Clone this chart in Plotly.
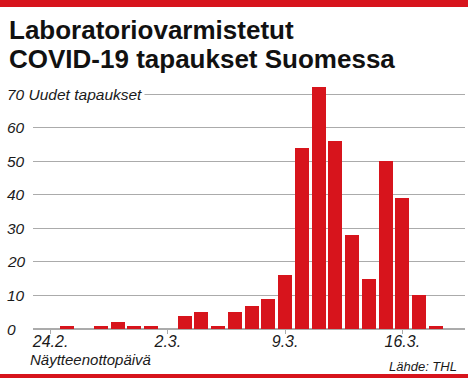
import plotly.graph_objects as go

dates = ["24.2.", "25.2.", "26.2.", "27.2.", "28.2.", "29.2.", "1.3.", "2.3.",
         "3.3.", "4.3.", "5.3.", "6.3.", "7.3.", "8.3.", "9.3.", "10.3.",
         "11.3.", "12.3.", "13.3.", "14.3.", "15.3.", "16.3.", "17.3.", "18.3."]
cases = [0, 1, 0, 1, 2, 1, 1, 0, 4, 5, 1, 5, 7, 9, 16, 54, 72, 56, 28, 15, 50, 39, 10, 1]
tick_labels = ["24.2.", "2.3.", "9.3.", "16.3."]
y_ticks = [0, 10, 20, 30, 40, 50, 60, 70]

title_1 = "Laboratoriovarmistetut"
title_2 = "COVID-19 tapaukset Suomessa"
y_title = "Uudet tapaukset"
x_title = "Näytteenottopäivä"
source = "Lähde: THL"

RED = "#d7141c"
GRID = "#ababab"
W, H = 468, 379
ML, MR, MT, MB = 33, 3, 84, 50
PW, PH = W - ML - MR, H - MT - MB

def px(x):
    return (x - ML) / PW

def py(y):
    return (H - MB - y) / PH

fig = go.Figure(go.Bar(
    x=dates, y=cases, marker=dict(color=RED, line=dict(width=0)), width=0.84,
))

annotations = []
for v in y_ticks:
    txt = f"{v} {y_title}" if v == 70 else str(v)
    annotations.append(dict(
        x=px(4), y=v, xref="paper", yref="y", text=txt, showarrow=False,
        xanchor="left", yanchor="middle",
        font=dict(family="Liberation Sans, Arial", size=15.5, color="#1a1a1a", style="italic"),
        bgcolor="white" if v == 70 else None, borderpad=2,
    ))
annotations.append(dict(x=px(7), y=py(29.5), xref="paper", yref="paper", text=title_1,
                        showarrow=False, xanchor="left", yanchor="middle",
                        font=dict(family="Liberation Sans, Arial", size=26, color="#111", weight="bold")))
annotations.append(dict(x=px(7), y=py(59.5), xref="paper", yref="paper", text=title_2,
                        showarrow=False, xanchor="left", yanchor="middle",
                        font=dict(family="Liberation Sans, Arial", size=26, color="#111", weight="bold")))
annotations.append(dict(x=px(28), y=py(359), xref="paper", yref="paper", text=x_title,
                        showarrow=False, xanchor="left", yanchor="middle",
                        font=dict(family="Liberation Sans, Arial", size=15, color="#1a1a1a", style="italic")))
annotations.append(dict(x=px(459), y=py(366), xref="paper", yref="paper", text=source,
                        showarrow=False, xanchor="right", yanchor="middle",
                        font=dict(family="Liberation Sans, Arial", size=13, color="#1a1a1a", style="italic")))

shapes = [
    dict(type="rect", xref="paper", yref="paper", x0=px(0), x1=px(W), y0=py(0), y1=py(7),
         fillcolor=RED, line=dict(width=0), layer="above"),
    dict(type="rect", xref="paper", yref="paper", x0=px(0), x1=px(W), y0=py(374), y1=py(378),
         fillcolor=RED, line=dict(width=0), layer="above"),
]

fig.update_layout(
    width=W, height=H, margin=dict(l=ML, r=MR, t=MT, b=MB),
    paper_bgcolor="white", plot_bgcolor="white", showlegend=False, bargap=0,
    annotations=annotations, shapes=shapes,
    xaxis=dict(type="category", range=[-1.05, 24.74], tickmode="array", tickvals=tick_labels,
               ticktext=tick_labels, ticks="outside", ticklen=4, tickcolor=GRID, tickwidth=1,
               ticklabelstandoff=-6,
               showgrid=False, showline=False, zeroline=False,
               tickfont=dict(family="Liberation Sans, Arial", size=16, color="#1a1a1a", style="italic")),
    yaxis=dict(range=[0, 73], tickvals=y_ticks, showticklabels=False, showgrid=True,
               gridcolor=GRID, gridwidth=1.3, zeroline=True, zerolinecolor=GRID, zerolinewidth=1.5,
               showline=False, ticks=""),
)

fig.write_html("out.html")
